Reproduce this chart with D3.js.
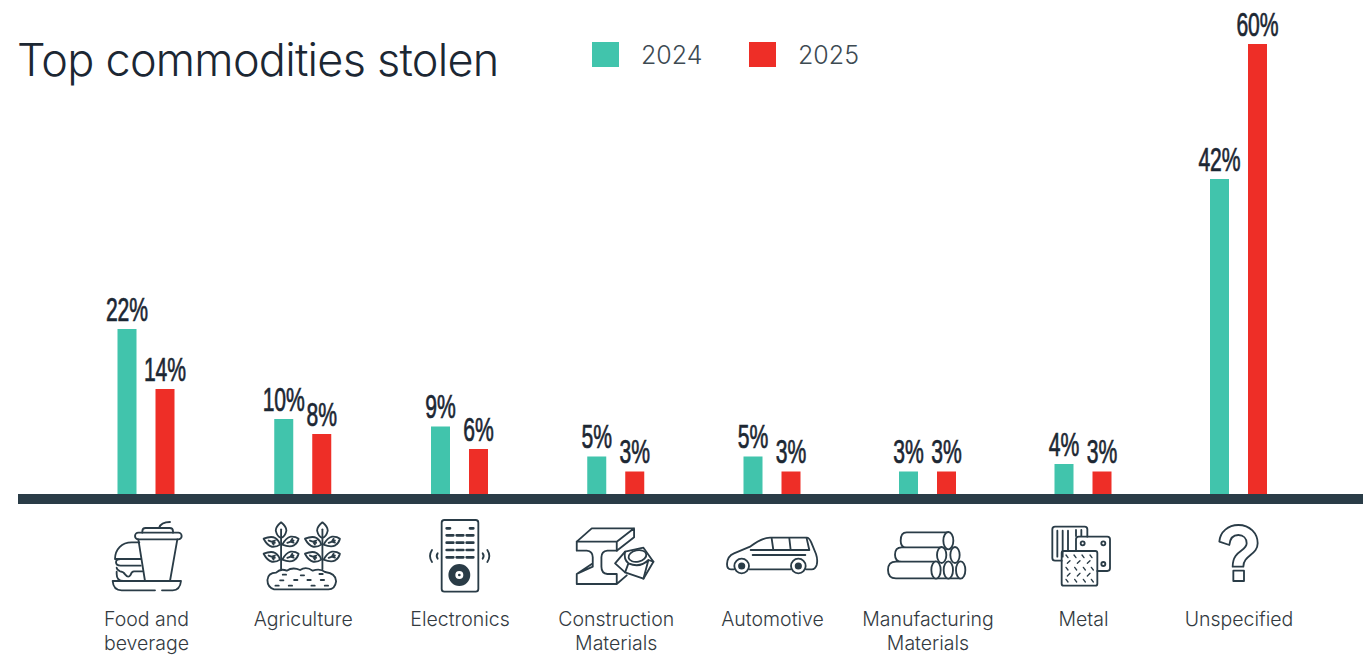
<!DOCTYPE html>
<html>
<head>
<meta charset="utf-8">
<script src="https://cdn.jsdelivr.net/npm/d3@7"></script>
<style>
html,body{margin:0;padding:0;background:#fff;overflow:hidden}
svg{display:block}
</style>
</head>
<body>
<svg id="chart" width="1363" height="655"></svg>
<script>
// Share of stolen commodities by category, per year (percent)
const categories = ["Food and beverage","Agriculture","Electronics","Construction Materials","Automotive","Manufacturing Materials","Metal","Unspecified"];
const values2024 = [22,10,9,5,5,3,4,42];
const values2025 = [14,8,6,3,3,3,3,60];
const years = ["2024","2025"];
const titleText = "Top commodities stolen";

const TEAL="#41c4ac", RED="#ee2e27", INK="#2a3c47", TITLE="#1c2733", LABEL="#333a3f";
const svg=d3.select("#chart");
const baseY=494;
// Category slots run along a lightly piecewise index scale
const xIndex=d3.scaleLinear().domain([0,2,4,7]).range([146,459.5,772,1238.5]);
const x=c=>xIndex(categories.indexOf(c));
const y=d3.scaleLinear().domain([0,60]).range([baseY,44]);
const yearOffset=d3.scaleOrdinal().domain(years).range([-19,19]);
const colour=d3.scaleOrdinal().domain(years).range([TEAL,RED]);
const barW=19;

// Title and legend
svg.append("text").attr("x",17).attr("y",75.5).attr("fill",TITLE)
  .attr("font-family","Inter,sans-serif").attr("font-size",45).attr("font-weight",300)
  .attr("letter-spacing",-0.75).text(titleText);
const legendX=d3.scaleOrdinal().domain(years).range([592,749]);
const lg=svg.append("g").selectAll("g").data(years).join("g").attr("transform",d=>`translate(${legendX(d)},42)`);
lg.append("rect").attr("width",27).attr("height",25).attr("fill",d=>colour(d));
lg.append("text").attr("x",49).attr("y",22).attr("fill","#3d4a52")
  .attr("font-family","Inter,sans-serif").attr("font-weight",300).attr("font-size",25).text(d=>d);

// Bars with value labels
const rows=categories.flatMap((c,i)=>[{c,year:"2024",v:values2024[i]},{c,year:"2025",v:values2025[i]}]);
svg.append("g").selectAll("rect").data(rows).join("rect")
  .attr("x",d=>x(d.c)+yearOffset(d.year)-barW/2).attr("width",barW)
  .attr("y",d=>y(d.v)).attr("height",d=>baseY-y(d.v)).attr("fill",d=>colour(d.year));
svg.append("g").selectAll("text").data(rows).join("text")
  .attr("transform",d=>`translate(${x(d.c)+yearOffset(d.year)},${y(d.v)-8.5}) scale(0.64,1)`)
  .attr("text-anchor","middle").attr("fill",TITLE).attr("stroke",TITLE).attr("stroke-width",0.7)
  .attr("font-family","'Liberation Sans',sans-serif").attr("font-size",33)
  .text(d=>d.v+"%");

// Baseline rule
svg.append("rect").attr("x",18).attr("y",baseY).attr("width",1345).attr("height",10).attr("fill",INK);

// Category axis with two-line labels
const axis=svg.append("g").attr("transform","translate(0,604)")
  .call(d3.axisBottom(xIndex).tickValues(d3.range(categories.length)).tickFormat(i=>categories[i]).tickSize(0).tickPadding(0));
axis.select(".domain").remove();
axis.selectAll("text").each(function(i){
  const d=categories[i];
  const t=d3.select(this).text("").attr("y",22).attr("dy",null).attr("fill",LABEL)
    .attr("font-family","Inter,sans-serif").attr("font-weight",300).attr("font-size",19.5);
  const parts=d==="Food and beverage"?["Food and","beverage"]:d.split(" ");
  parts.forEach((p,k)=>t.append("tspan").attr("x",0).attr("dy",k?24:0).text(p));
});

// Line-art icons, drawn on a 3x grid and scaled down around each category
function leaf(g,cx,cy,rot){
  const l=g.append("g").attr("transform",`translate(${cx},${cy}) rotate(${rot})`);
  l.append("path").attr("d","M-26,0 Q-8,-16 6,-14 Q20,-10 26,0 Q20,10 6,14 Q-8,16 -26,0Z");
  l.append("path").attr("d","M-10,0 H10 M0,0 L8,-6 M0,0 L8,6");
}
const icons={
  "Food and beverage":[-168,g=>{
    g.append("path").attr("d","M157,98 V94 Q157,84 167,84 H239 Q249,84 249,94 V98 M207,84 Q213,66 240,66");
    g.append("rect").attr("x",135).attr("y",98).attr("width",140).attr("height",20).attr("rx",10);
    g.append("path").attr("d","M145,118 L165,243 M262,118 L240,243");
    g.append("path").attr("d","M148,127 H125 C95,127 75,148 75,177 H152 M152,197 H92 Q78,197 78,187 Q78,177 92,177 M157,214 H132 Q125,214 122,224 Q115,236 106,224 Q100,214 90,214 Q80,208 80,203 M80,215 V222 Q80,243 100,243");
    g.append("path").attr("d","M68,243 H273 Q270,271 248,271 H216 M195,271 H95 Q70,271 68,243");
  }],
  "Agriculture":[-638,g=>{
    [573,697].forEach(cx=>{
      g.append("path").attr("d",`M${cx},208 V88`);
      g.append("path").attr("d",`M${cx},67 Q${cx+16},80 ${cx+16},92 Q${cx+12},110 ${cx},114 Q${cx-12},110 ${cx-16},92 Q${cx-16},80 ${cx},67Z`);
      [[cx-28,125,20],[cx+28,125,-20],[cx-28,170,20],[cx+28,170,-20]].forEach(p=>leaf(g,p[0],p[1],p[2]));
    });
    g.append("path").attr("d","M552,268 Q532,262 532,240 Q534,218 558,218 Q572,204 590,212 Q608,200 630,210 Q648,198 668,212 Q690,204 705,216 Q738,220 738,244 Q735,268 715,268Z");
    g.append("path").attr("d","M578,224 h10 M632,226 h10 M688,222 h10 M570,241 h10 M612,240 h10 M652,240 h10 M692,240 h10 M556,257 h10 M596,257 h10 M664,257 h10 M704,257 h10");
  }],
  "Electronics":[-148.5,g=>{
    g.append("rect").attr("x",95).attr("y",60).attr("width",110).attr("height",215).attr("rx",8);
    g.append("path").attr("stroke-width",8).attr("d","M110,85 h10 M180,85 h10 M110,106 h20 M140,106 h20 M170,106 h20 M110,128 h20 M140,128 h20 M170,128 h20 M110,150 h20 M140,150 h20 M170,150 h20 M110,172 h20 M140,172 h20 M170,172 h20");
    g.append("circle").attr("cx",148).attr("cy",225).attr("r",30).attr("fill",INK);
    g.append("circle").attr("cx",148).attr("cy",225).attr("r",12).attr("fill","#fff").attr("stroke","none");
    g.append("circle").attr("cx",148).attr("cy",225).attr("r",4).attr("fill",INK).attr("stroke","none");
    g.append("path").attr("d","M66,150 Q54,168 66,186 M83,160 Q77,168 83,176 M232,150 Q244,168 232,186 M218,160 Q224,168 218,176");
  }],
  "Construction Materials":[-617,g=>{
    g.append("path").attr("d","M500,125 L545,85 H672 V112 L620,152 V125 H500Z M672,85 L620,125");
    g.append("path").attr("d","M500,125 V152 H530 Q548,154 548,172 V200 L500,222 V252 H620 V222 H592 Q574,220 574,200 V172 Q574,154 592,152 H620 M545,192 L500,222 M620,252 L650,226");
    g.append("path").attr("fill","#fff").attr("d","M615,190 L645,155 L700,143 L730,185 L700,236 L645,217Z");
    g.append("path").attr("d","M645,155 Q640,178 655,190 L645,217 M655,190 Q690,205 715,180 L730,185 M715,180 L700,236");
    g.append("ellipse").attr("cx",682).attr("cy",168).attr("rx",27).attr("ry",17).attr("transform","rotate(-12 682 168)");
  }],
  "Automotive":[-1086,g=>{
    g.append("path").attr("d","M972,208 H963 Q951,208 951,192 Q952,168 972,160 L1022,139 Q1055,113 1080,113 H1190 Q1198,113 1204,128 L1218,162 Q1224,180 1220,195 Q1216,208 1205,208 H1188 M1142,208 H1018");
    g.append("circle").attr("cx",995).attr("cy",198).attr("r",22);
    g.append("circle").attr("cx",995).attr("cy",198).attr("r",8).attr("fill",INK);
    g.append("circle").attr("cx",1165).attr("cy",198).attr("r",22);
    g.append("circle").attr("cx",1165).attr("cy",198).attr("r",8).attr("fill",INK);
    g.append("path").attr("d","M1022,150 H1198 M1085,115 L1090,150 M1138,115 L1142,150 M1190,115 L1198,150 M1028,165 H1186");
  }],
  "Manufacturing Materials":[-202.5,g=>{
    g.append("path").attr("d","M265,97 H140 Q122,97 122,122 Q122,142 138,142 M245,142 H125 Q105,142 105,164 Q105,185 125,185 H225 M228,185 H108 Q84,185 84,210 Q84,235 108,235 H300");
    [[265,122,15,26],[245,165,14,24],[285,165,14,24],[228,210,14,26],[265,210,14,26],[302,210,14,26]].forEach(e=>
      g.append("ellipse").attr("fill","#fff").attr("cx",e[0]).attr("cy",e[1]).attr("rx",e[2]).attr("ry",e[3]));
  }],
  "Metal":[-669,g=>{
    g.append("path").attr("d","M605,182 H585 Q577,182 577,174 V88 Q577,80 585,80 H674 Q682,80 682,88 V110");
    g.append("path").attr("d","M592,92 V170 M608,92 V170 M624,92 V153 M648,90 V108 M664,90 V108");
    g.append("path").attr("d","M712,213 H742 Q750,213 750,205 V118 Q750,110 742,110 H656 Q648,110 648,118 V153");
    g.append("circle").attr("cx",668).attr("cy",130).attr("r",6);
    g.append("circle").attr("cx",730).attr("cy",130).attr("r",6);
    g.append("circle").attr("cx",730).attr("cy",192).attr("r",6);
    g.append("rect").attr("x",605).attr("y",153).attr("width",107).attr("height",104).attr("rx",6);
    g.append("path").attr("stroke-width",4).attr("d","M618,165 l6,8 M642,165 l6,8 M666,165 l6,8 M690,165 l6,8 M622,190 l8,-8 M652,190 l8,-8 M682,190 l8,-8 M618,202 l6,8 M644,202 l6,8 M670,202 l6,8 M694,202 l6,8 M622,228 l8,-8 M652,228 l8,-8 M682,228 l8,-8 M618,238 l6,8 M644,238 l6,8 M670,238 l6,8 M694,238 l6,8");
  }],
  "Unspecified":[-1135.5,g=>{
    g.append("path").attr("d","M1078,125 C1080,95 1105,75 1135,75 C1170,75 1193,100 1193,130 C1193,165 1150,165 1150,200 H1118 C1118,150 1160,155 1160,130 C1160,115 1150,105 1135,105 C1120,105 1110,115 1108,135 Z");
    g.append("rect").attr("x",1120).attr("y",212).attr("width",32).attr("height",31);
  }]
};
svg.append("g").selectAll("g").data(categories).join("g")
  .attr("transform",d=>`translate(${x(d)+icons[d][0]/3},500) scale(${1/3})`)
  .attr("fill","none").attr("stroke",INK).attr("stroke-width",5.5).attr("stroke-linecap","round").attr("stroke-linejoin","round")
  .each(function(d){icons[d][1](d3.select(this));});
</script>
</body>
</html>
